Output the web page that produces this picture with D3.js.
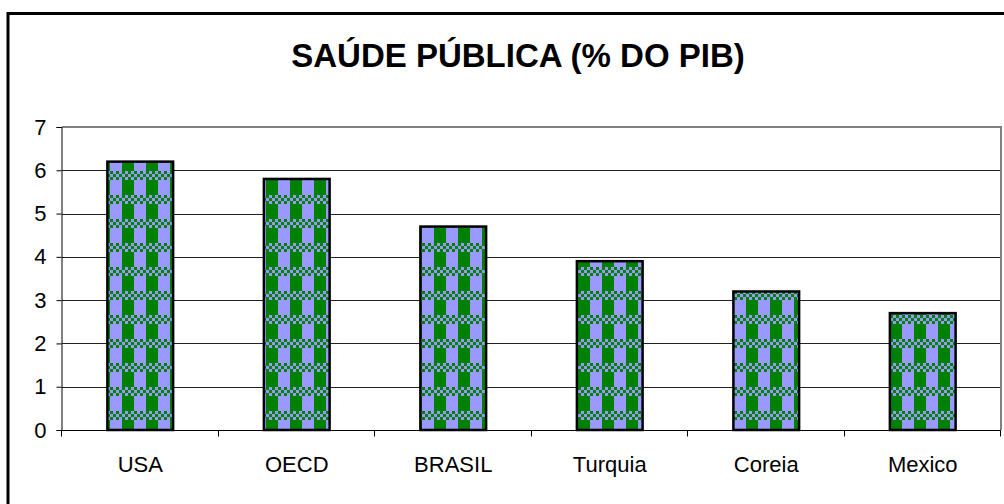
<!DOCTYPE html>
<html>
<head>
<meta charset="utf-8">
<script src="https://cdn.jsdelivr.net/npm/d3@7"></script>
<style>
  body { margin: 0; background: #fff; }
  svg { display: block; font-family: "Liberation Sans", Arial, sans-serif; }
</style>
</head>
<body>
<div id="chart"></div>
<script>
const titulo = "SAÚDE PÚBLICA (% DO PIB)";
const paises = ["USA", "OECD", "BRASIL", "Turquia", "Coreia", "Mexico"];
const valores = [6.2, 5.8, 4.7, 3.9, 3.2, 2.7];
const ticksY = [0, 1, 2, 3, 4, 5, 6, 7];

const width = 1004;
const height = 504;
const margin = { left: 62, right: 1001, top: 127, bottom: 430 };

const svg = d3.select("#chart")
    .append("svg")
    .attr("width", width)
    .attr("height", height);

// Padrão xadrez (tipo "plaid" do Excel)
const defs = svg.append("defs");
const pat = defs.append("pattern")
    .attr("id", "xadrez")
    .attr("patternUnits", "userSpaceOnUse")
    .attr("width", 24)
    .attr("height", 24)
    .attr("x", 2)
    .attr("y", 3);
pat.append("rect").attr("width", 24).attr("height", 24).attr("fill", "#9999ff");
// metade de cima: xadrez pequeno
for (let r = 0; r < 3; r++) {
    for (let c = 0; c < 8; c++) {
        if ((r + c) % 2 === 0) {
            pat.append("rect")
                .attr("x", c * 3).attr("y", r * 3)
                .attr("width", 3).attr("height", 3)
                .attr("fill", "#008000");
        }
    }
}
// metade de baixo: faixa verde
pat.append("rect").attr("x", 0).attr("y", 9).attr("width", 12).attr("height", 15).attr("fill", "#008000");

// Moldura externa
svg.append("rect")
    .attr("x", 8).attr("y", 13.5)
    .attr("width", 1100).attr("height", 600)
    .attr("fill", "none")
    .attr("stroke", "#000")
    .attr("stroke-width", 3);

// Título
svg.append("text")
    .attr("x", 518).attr("y", 67)
    .attr("text-anchor", "middle")
    .attr("font-size", "33px")
    .attr("font-weight", "bold")
    .text(titulo);

const x = d3.scaleBand()
    .domain(paises)
    .range([margin.left, margin.right])
    .paddingInner(0.58)
    .paddingOuter(0.29);

const y = d3.scaleLinear()
    .domain([0, 7])
    .range([margin.bottom, margin.top]);

// Linhas de grade
svg.append("g")
    .selectAll("line")
    .data(ticksY.filter(d => d > 0 && d < 7))
    .enter()
    .append("line")
    .attr("x1", margin.left).attr("x2", margin.right)
    .attr("y1", d => Math.round(y(d)) + 0.5)
    .attr("y2", d => Math.round(y(d)) + 0.5)
    .attr("stroke", "#222")
    .attr("stroke-width", 1);

// Borda da área do gráfico
svg.append("path")
    .attr("d", `M${margin.left},${margin.top}H${margin.right}V${margin.bottom}`)
    .attr("fill", "none")
    .attr("stroke", "#808080")
    .attr("stroke-width", 2);

// Barras
svg.append("g")
    .selectAll("rect")
    .data(valores)
    .enter()
    .append("rect")
    .attr("x", (d, i) => x(paises[i]))
    .attr("y", d => y(d))
    .attr("width", x.bandwidth())
    .attr("height", d => y(0) - y(d))
    .attr("fill", "url(#xadrez)")
    .attr("stroke", "#000")
    .attr("stroke-width", 2.5);

// Eixo Y
const eixoY = svg.append("g")
    .attr("transform", `translate(${margin.left - 0.5},0)`)
    .call(d3.axisLeft(y).tickValues(ticksY).tickSize(5).tickPadding(10).tickFormat(d3.format("d")));
eixoY.select(".domain").attr("stroke", "#000");
eixoY.selectAll(".tick line").attr("stroke", "#000");
eixoY.selectAll("text").attr("font-size", "22px").attr("fill", "#000")
    .attr("font-family", "Liberation Sans, Arial, sans-serif");

// Eixo X
const eixoX = svg.append("g")
    .attr("transform", `translate(0,${margin.bottom + 0.5})`);
eixoX.append("line")
    .attr("x1", margin.left).attr("x2", margin.right)
    .attr("stroke", "#000");
const step = (margin.right - margin.left) / paises.length;
eixoX.selectAll(".marca")
    .data(d3.range(paises.length + 1))
    .enter()
    .append("line")
    .attr("class", "marca")
    .attr("x1", d => Math.round(margin.left + d * step) - 0.5)
    .attr("x2", d => Math.round(margin.left + d * step) - 0.5)
    .attr("y1", 0).attr("y2", 6)
    .attr("stroke", "#000");
eixoX.selectAll(".rotulo")
    .data(paises)
    .enter()
    .append("text")
    .attr("class", "rotulo")
    .attr("x", d => x(d) + x.bandwidth() / 2)
    .attr("y", 41)
    .attr("text-anchor", "middle")
    .attr("font-size", "22px")
    .text(d => d);
</script>
</body>
</html>
